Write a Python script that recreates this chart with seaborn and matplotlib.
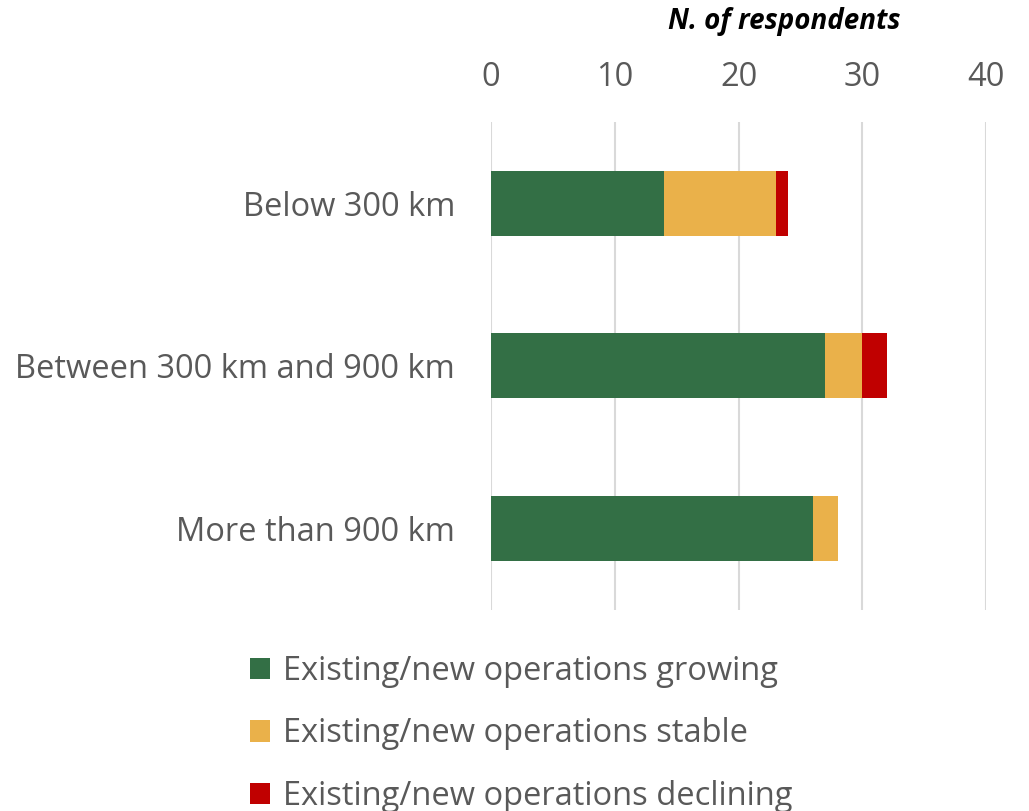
import numpy as np
import pandas as pd
import matplotlib
matplotlib.use("Agg")
import matplotlib.pyplot as plt
from matplotlib.patches import Patch
import seaborn as sns

categories = ["Below 300 km", "Between 300 km and 900 km", "More than 900 km"]
growing = [14, 27, 26]
stable = [9, 3, 2]
declining = [1, 2, 0]
series_names = ["Existing/new operations growing",
                "Existing/new operations stable",
                "Existing/new operations declining"]
colors = ["#336F45", "#EAB14A", "#C00000"]
x_ticks = [0, 10, 20, 30, 40]

sns.set_theme(style="white")
plt.rcParams["font.family"] = ["Open Sans", "DejaVu Sans"]
text_gray = "#595959"

df = pd.DataFrame({"category": categories, "growing": growing,
                   "stable": stable, "declining": declining})
df["c1"] = df["growing"]
df["c2"] = df["growing"] + df["stable"]
df["c3"] = df["c2"] + df["declining"]

fig = plt.figure(figsize=(10.29, 8.11), dpi=100)
ax = fig.add_axes([0.4772, 0.2479, 0.481, 0.6017])

# stacked bars drawn as overlaid cumulative totals
for col, color in zip(["c3", "c2", "c1"], colors[::-1]):
    sns.barplot(data=df, x=col, y="category", orient="h", color=color,
                width=0.4, ax=ax, saturation=1, zorder=3, linewidth=0)

ax.set_xlim(0, 40)
ax.set_ylim(2.5, -0.5)
ax.set_xticks(x_ticks)
ax.xaxis.tick_top()
ax.tick_params(axis="x", length=0, pad=20, labelsize=23.5, labelcolor=text_gray)
ax.tick_params(axis="y", length=0, pad=26, labelsize=23.5, labelcolor=text_gray)
ax.set_xlabel("")
ax.set_ylabel("")
ax.grid(axis="x", color="#D9D9D9", linewidth=1.5, zorder=0)
ax.grid(axis="y", visible=False)
for s in ax.spines.values():
    s.set_visible(False)

fig.text(900 / 1029, 1 - 22 / 811, "N. of respondents", ha="right", va="center",
         fontsize=20, fontweight="bold", fontstyle="italic", color="black")

handles = [Patch(facecolor=c, edgecolor="none") for c in colors]
fig.legend(handles, series_names, loc="upper left",
           bbox_to_anchor=(237 / 1029, 1 - 642 / 811), frameon=False,
           fontsize=23.5, labelcolor=text_gray, handlelength=0.62, handleheight=0.62,
           handletextpad=0.38, labelspacing=0.9, borderaxespad=0)

fig.savefig("out.png", dpi=100)
